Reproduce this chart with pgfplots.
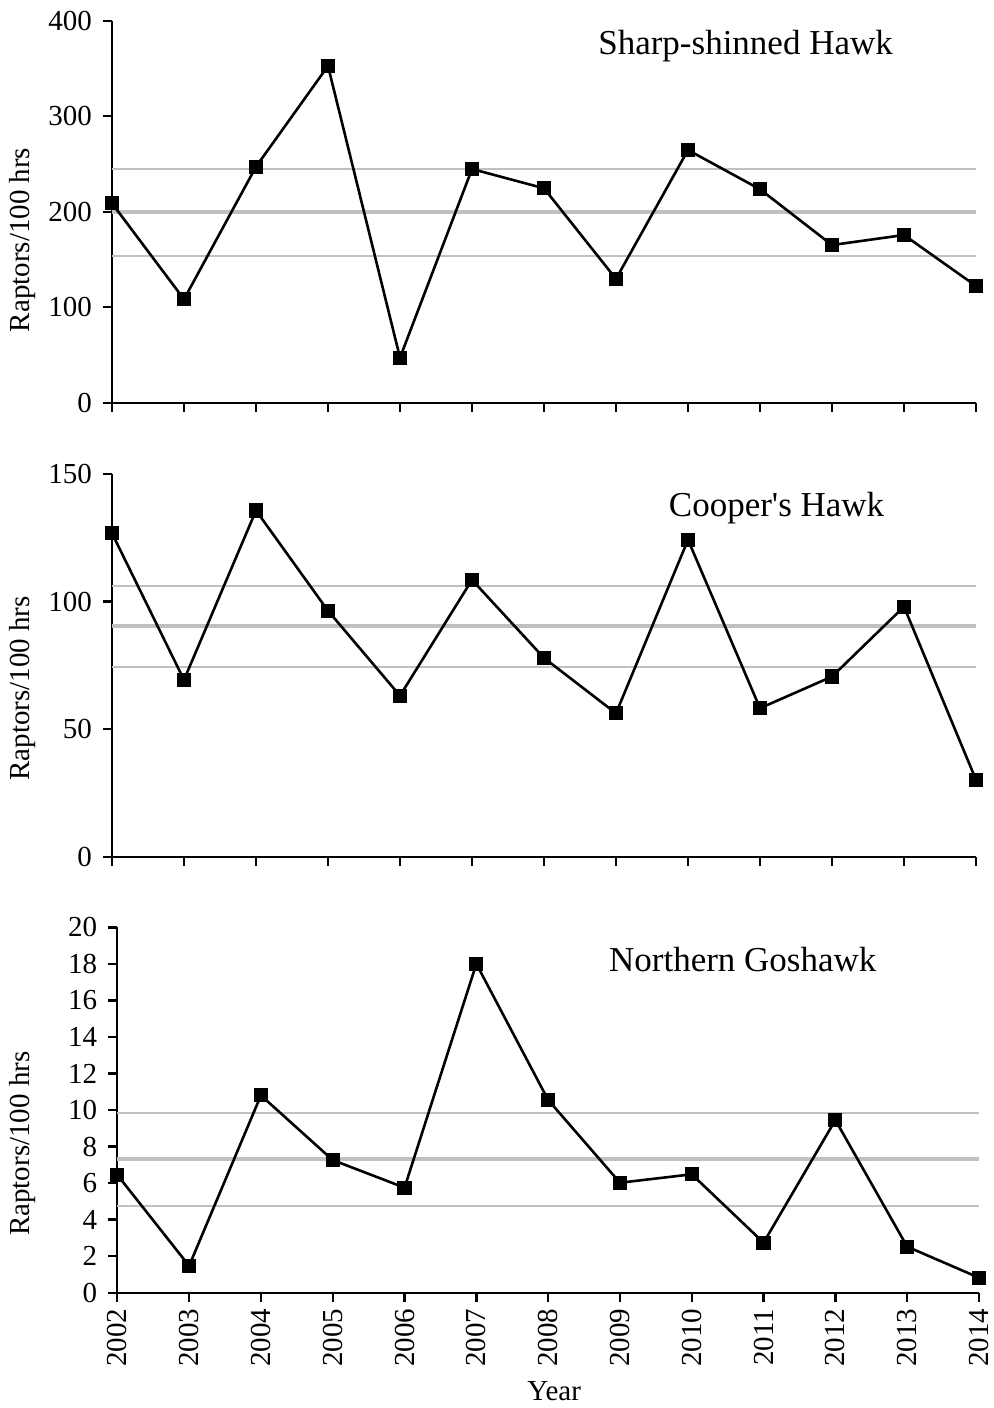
\documentclass[border=0pt]{standalone}
\usepackage{fontspec}
\setmainfont{Liberation Serif}
\usepackage{pgfplots}
\pgfplotsset{compat=1.18}
\definecolor{refgray}{RGB}{192,192,192}
\tikzset{ttl/.style={anchor=base, font=\fontsize{17.5}{20}\selectfont}}
\pgfplotsset{
  panel/.style={
    scale only axis,
    xmin=2002, xmax=2014, xtick={2002,2003,...,2014},
    axis x line=bottom, axis y line=left,
    axis line style={-, line width=1.2pt, black},
    tick align=outside, major tick length=4.5pt,
    tick style={black, line width=1.2pt},
    clip=false,
    /pgf/number format/assume math mode=true,
    /pgf/number format/1000 sep={},
    ticklabel style={font=\fontsize{14.5}{17}\selectfont},
    yticklabel style={xshift=-2pt},
    ylabel={Raptors/100 hrs},
    ylabel style={font=\fontsize{14.5}{17}\selectfont, anchor=center},
  },
  meanline/.style={refgray, line width=2pt, forget plot},
  sdline/.style={refgray, line width=1pt, forget plot},
  dataline/.style={black, line width=1.3pt, mark=square*, mark size=3.3pt, mark options={solid, fill=black, line width=0.5pt}},
}
\begin{document}
\begin{tikzpicture}
\path[use as bounding box] (0pt,0pt) rectangle (496.5pt,-704pt);
% Panel 1: Sharp-shinned Hawk
\begin{axis}[panel, at={(56pt,-201.35pt)}, anchor=south west, width=432pt, height=191pt,
  ymin=0, ymax=400, ytick={0,100,200,300,400}, xticklabels={},
  ylabel style={at={(axis description cs:-0.1036,0.426)}}]
\addplot[sdline] coordinates {(2002,244.4) (2014,244.4)};
\addplot[meanline] coordinates {(2002,199.4) (2014,199.4)};
\addplot[sdline] coordinates {(2002,153.6) (2014,153.6)};
\addplot[dataline] coordinates {
(2002,208.8) (2003,108.3) (2004,247.1) (2005,352.6) (2006,47.1) (2007,244.7)
(2008,224.5) (2009,129.6) (2010,264.6) (2011,223.5) (2012,165.1) (2013,175.6) (2014,122.2)};
\node[ttl] at (axis cs:2010.80,365.1) {Sharp-shinned Hawk};
\end{axis}
% Panel 2: Cooper's Hawk
\begin{axis}[panel, at={(56pt,-428.35pt)}, anchor=south west, width=432pt, height=191.35pt,
  ymin=0, ymax=150, ytick={0,50,100,150}, xticklabels={},
  ylabel style={at={(axis description cs:-0.1036,0.44)}}]
\addplot[sdline] coordinates {(2002,106.2) (2014,106.2)};
\addplot[meanline] coordinates {(2002,90.4) (2014,90.4)};
\addplot[sdline] coordinates {(2002,74.2) (2014,74.2)};
\addplot[dataline] coordinates {
(2002,126.8) (2003,69.3) (2004,135.7) (2005,96.4) (2006,63.1) (2007,108.5)
(2008,77.9) (2009,56.2) (2010,124.2) (2011,58.2) (2012,70.6) (2013,98.0) (2014,30.1)};
\node[ttl] at (axis cs:2011.23,133.3) {Cooper\textquotesingle s Hawk};
\end{axis}
% Panel 3: Northern Goshawk
\begin{axis}[panel, at={(58.65pt,-646.35pt)}, anchor=south west, width=430.85pt, height=182.7pt,
  ymin=0, ymax=20, ytick={0,2,...,20},
  ylabel style={at={(axis description cs:-0.110,0.408)}},
  xticklabel style={rotate=90, anchor=east},
  xlabel={Year},
  xlabel style={font=\fontsize{14.5}{17}\selectfont, at={(axis description cs:0.507,-0.2937)}, anchor=base}]
\addplot[sdline] coordinates {(2002,9.85) (2014,9.85)};
\addplot[meanline] coordinates {(2002,7.3) (2014,7.3)};
\addplot[sdline] coordinates {(2002,4.75) (2014,4.75)};
\addplot[dataline] coordinates {
(2002,6.45) (2003,1.47) (2004,10.8) (2005,7.26) (2006,5.75) (2007,18.0)
(2008,10.55) (2009,6.02) (2010,6.48) (2011,2.74) (2012,9.45) (2013,2.52) (2014,0.82)};
\node[ttl] at (axis cs:2010.71,17.57) {Northern Goshawk};
\end{axis}
\end{tikzpicture}
\end{document}
